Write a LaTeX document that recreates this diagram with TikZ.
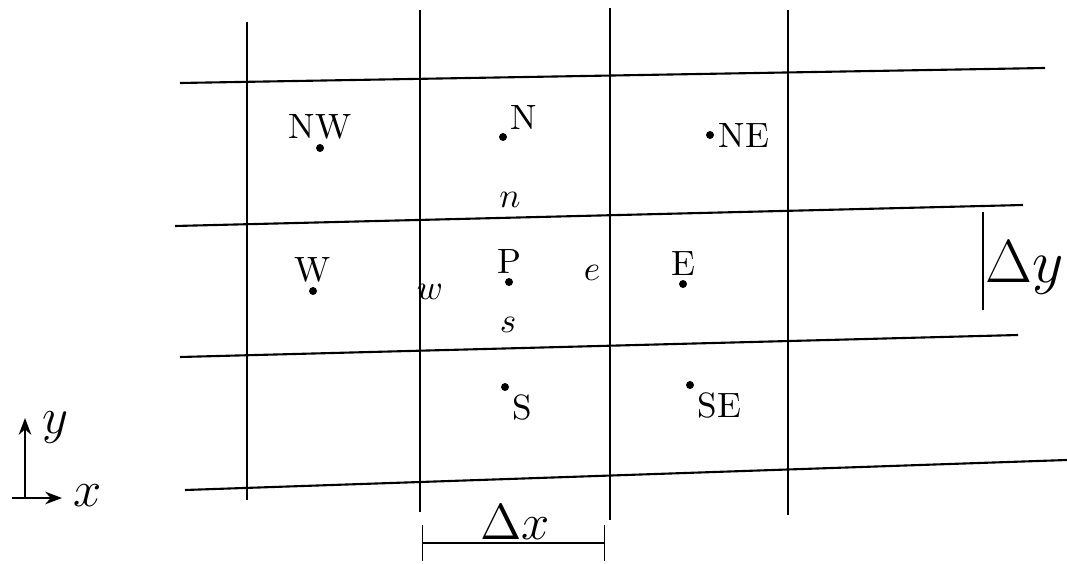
\documentclass[tikz,border=0pt]{standalone}
\usepackage{tikz}
\usetikzlibrary{arrows.meta}
\begin{document}
\begin{tikzpicture}[x=.01cm,y=-.01cm,every node/.style={font=\normalsize},
    gridline/.style={line width=.6pt},
    pt/.style={circle,fill,inner sep=.8pt},
    face/.style={font=\normalsize}]
  \useasboundingbox (0,0) rectangle (1067,564);
  \draw[gridline] (180,83) -- (1045,68);
  \draw[gridline] (175,226) -- (1023,205);
  \draw[gridline] (180,357) -- (1018,335);
  \draw[gridline] (185,490) -- (1067,460);
  \draw[gridline] (247,22) -- (247,500);
  \draw[gridline] (420,10) -- (420,512);
  \draw[gridline] (610,8) -- (610,520);
  \draw[gridline] (788,10) -- (788,515);
  \node[pt,label={[inner sep=1pt]above:NW}] (NW) at (320,148) {};
  \node[pt,label={[inner sep=1pt]above right:N}] (N) at (503,137) {};
  \node[pt,label={[inner sep=1pt]right:NE}] (NE) at (710,135) {};
  \node[pt,label={[inner sep=1pt]above:W}] (W) at (313,291) {};
  \node[pt,label={[inner sep=1pt]above:P}] (P) at (509,282) {};
  \node[pt,label={[inner sep=1pt]above:E}] (E) at (683,284) {};
  \node[pt,label={[inner sep=1pt]below right:S}] (S) at (505,387) {};
  \node[pt,label={[inner sep=1pt]below right:SE}] (SE) at (690,385) {};
  \node[face] (n) at (510,200) {$n$};
  \node[face] (w) at (430,292) {$w$};
  \node[face] (e) at (592,273) {$e$};
  \node[face] (s) at (508,325) {$s$};
  \coordinate (dyt) at (983,212);
  \coordinate (dyb) at (983,310);
  \draw (dyt) -- (dyb);
  \node[font=\LARGE] (dy) at (1025,268) {$\Delta y$};
  \coordinate (dxl) at (422,543);
  \coordinate (dxr) at (605,543);
  \draw[{Bar[width=3.5mm]}-{Bar[width=3.5mm]}] (dxl) -- (dxr);
  \node[font=\Large] (dx) at (515,522) {$\Delta x$};
  \coordinate (o) at (25,498);
  \coordinate (ytip) at (25,418);
  \coordinate (xtip) at (62,498);
  \draw[-{Stealth}] (o) -- (ytip);
  \draw[-{Stealth}] (12,498) -- (xtip);
  \node[font=\Large] (ylbl) at (55,428) {$y$};
  \node[font=\Large] (xlbl) at (88,496) {$x$};
\end{tikzpicture}
\end{document}
